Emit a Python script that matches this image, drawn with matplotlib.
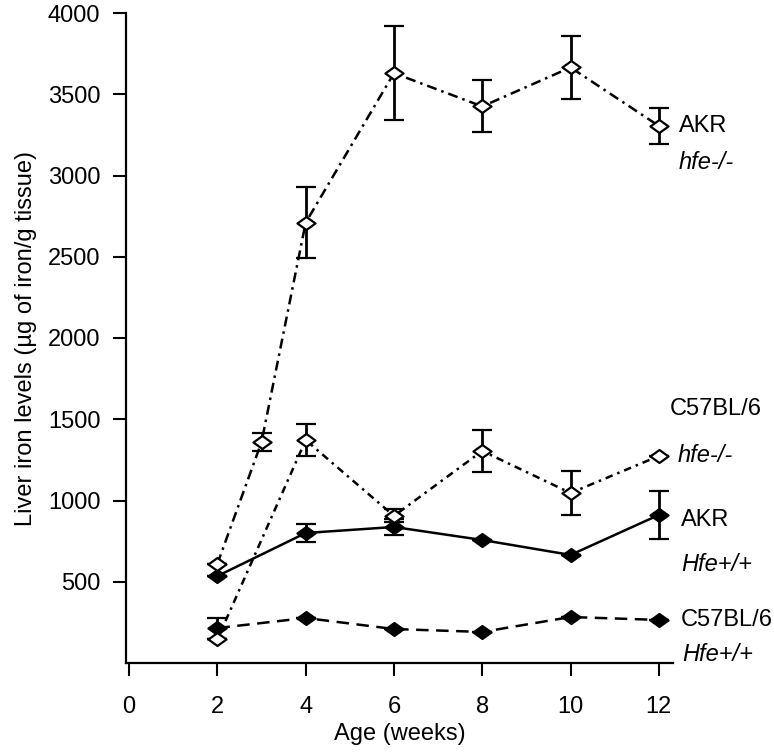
import matplotlib
matplotlib.use("Agg")
import matplotlib.pyplot as plt
from matplotlib.path import Path

plt.rcParams['font.family'] = ['Liberation Sans', 'DejaVu Sans']

# Data
akr_ko_weeks = [2, 3, 4, 6, 8, 10, 12]
akr_ko_vals = [610, 1360, 2710, 3630, 3425, 3665, 3305]
akr_ko_err = [0, 55, 220, 290, 160, 195, 110]

c57_ko_weeks = [2, 4, 6, 8, 10, 12]
c57_ko_vals = [145, 1372, 905, 1305, 1046, 1274]
c57_ko_err = [0, 98, 40, 130, 138, 0]

akr_wt_weeks = [2, 4, 6, 8, 10, 12]
akr_wt_vals = [535, 800, 837, 757, 665, 911]
akr_wt_err = [0, 58, 50, 0, 0, 145]

c57_wt_weeks = [2, 4, 6, 8, 10, 12]
c57_wt_vals = [215, 277, 209, 191, 283, 265]
c57_wt_err = [65, 0, 0, 0, 0, 0]

x_ticks = [0, 2, 4, 6, 8, 10, 12]
y_ticks = [500, 1000, 1500, 2000, 2500, 3000, 3500, 4000]

diamond = Path([(-1, 0), (0, 0.72), (1, 0), (0, -0.72), (-1, 0)],
               [Path.MOVETO, Path.LINETO, Path.LINETO, Path.LINETO, Path.CLOSEPOLY])

fig = plt.figure(figsize=(7.74, 7.53), dpi=100)
ax = fig.add_axes([126/774, 1 - 663/753, 547/774, 650/753])

fs = 17
common = dict(marker=diamond, markersize=13, markeredgecolor='black',
              markeredgewidth=1.6, ecolor='black', elinewidth=2.0,
              capsize=7, capthick=2.0, color='black', linewidth=1.8)

ax.errorbar(c57_wt_weeks, c57_wt_vals, yerr=c57_wt_err, markerfacecolor='black',
            linestyle=(0, (5, 3)), zorder=3, **common)
ax.errorbar(akr_wt_weeks, akr_wt_vals, yerr=akr_wt_err, markerfacecolor='black',
            linestyle='-', zorder=3, **common)
ax.errorbar(c57_ko_weeks, c57_ko_vals, yerr=c57_ko_err, markerfacecolor='white',
            linestyle=(0, (3, 2, 1, 2)), zorder=4, **common)
ax.errorbar(akr_ko_weeks, akr_ko_vals, yerr=akr_ko_err, markerfacecolor='white',
            linestyle=(0, (4, 2, 1, 2)), zorder=4, **common)

ax.set_xlim(-0.07, 12.32)
ax.set_ylim(0, 4000)
ax.set_xticks(x_ticks)
ax.set_yticks(y_ticks)
ax.tick_params(axis='both', direction='out', length=9.5, width=1.5, labelsize=fs)
ax.tick_params(axis='x', pad=14)
ax.tick_params(axis='y', pad=9)
for s in ['top', 'right']:
    ax.spines[s].set_visible(False)
for s in ['left', 'bottom']:
    ax.spines[s].set_linewidth(1.6)

ax.set_xlabel('Age (weeks)', fontsize=fs, labelpad=4)
ax.set_ylabel('Liver iron levels (\u00b5g of iron/g tissue)', fontsize=fs, labelpad=8)

labels = [
    (12.45, 3305, 'AKR', 'normal'),
    (12.45, 3077, 'hfe-/-', 'italic'),
    (12.25, 1563, 'C57BL/6', 'normal'),
    (12.43, 1274, 'hfe-/-', 'italic'),
    (12.5, 880, 'AKR', 'normal'),
    (12.5, 609, 'Hfe+/+', 'italic'),
    (12.5, 265, 'C57BL/6', 'normal'),
    (12.52, 55, 'Hfe+/+', 'italic'),
]
for x, y, t, st in labels:
    ax.text(x, y, t, fontsize=fs, style=st, ha='left', va='center', clip_on=False)

fig.savefig('out.png', dpi=100)
